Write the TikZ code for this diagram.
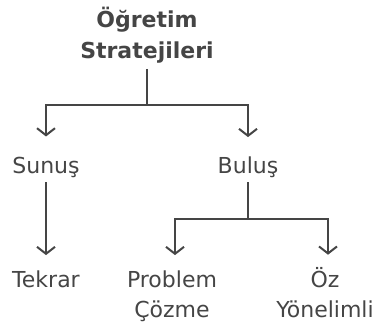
\documentclass[tikz,border=0pt]{standalone}
\usepackage{fontspec}
\setmainfont{DejaVu Sans}
\usepackage{tikz}
\usetikzlibrary{arrows.meta}
\definecolor{ink}{HTML}{454545}

\begin{document}
\begin{tikzpicture}[x=1pt,y=-1pt]
	 \tikzstyle{box}=[inner sep=0pt,anchor=base,align=center,text=ink,font=\fontsize{22}{30}\selectfont]
	 \tikzstyle{wire} = [draw,line width=2pt,ink]
	 \tikzstyle{edge} = [wire,-{Straight Barb[length=7pt,width=18pt]}]
	 \useasboundingbox (0,0) rectangle (379,327);

	 \node[box,font=\fontsize{22}{31}\selectfont\bfseries] (root) at (147,58) {Öğretim\\Stratejileri};
	 \node[box] (sunus) at (46,173) {Sunuş};
	 \node[box] (bulus) at (248,173) {Buluş};
	 \node[box] (tekrar) at (46,287) {Tekrar};
	 \node[box] (problem) at (172,317) {Problem\\Çözme};
	 \node[box] (oz) at (325,317) {Öz\\Yönelimli};

	 \coordinate (rootsplit) at (147,105);
	 \coordinate (bulussplit) at (248,219);

	 \draw[wire,shorten <=6pt] (root.south) -- (rootsplit);
	 \draw[edge,shorten >=20pt] (rootsplit) -| (sunus.north);
	 \draw[edge,shorten >=19pt] (rootsplit) -| (bulus.north);
	 \draw[edge,shorten <=5pt,shorten >=15pt] (sunus.south) -- (tekrar.north);
	 \draw[wire,shorten <=5pt] (bulus.south) -- (bulussplit);
	 \draw[edge,shorten >=15pt] (bulussplit) -| ([xshift=3pt]problem.north);
	 \draw[edge,shorten >=12pt] (bulussplit) -| ([xshift=3pt]oz.north);

\end{tikzpicture}
\end{document}
